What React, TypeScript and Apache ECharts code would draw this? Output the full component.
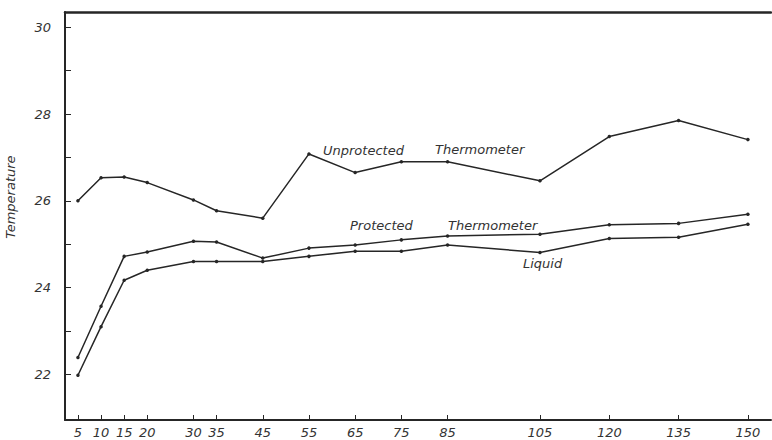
import React, { useEffect, useRef } from "react";
import * as echarts from "echarts";

const xValues = [5, 10, 15, 20, 30, 35, 45, 55, 65, 75, 85, 105, 120, 135, 150];
const unprotected = [26.0, 26.53, 26.55, 26.42, 26.02, 25.77, 25.6, 27.08, 26.65, 26.9, 26.9, 26.46, 27.48, 27.85, 27.41];
const protectedT = [22.39, 23.57, 24.72, 24.82, 25.07, 25.05, 24.68, 24.91, 24.98, 25.1, 25.19, 25.23, 25.45, 25.48, 25.69];
const liquid = [21.98, 23.1, 24.17, 24.4, 24.6, 24.6, 24.6, 24.72, 24.84, 24.84, 24.98, 24.81, 25.13, 25.16, 25.46];
const yTicks = [22, 23, 24, 25, 26, 27, 28, 29, 30];
const yLabels = [22, 24, 26, 28, 30];

const FONT = "DejaVu Sans";
const INK = "#262626";

export default function App() {
  const ref = useRef<HTMLDivElement>(null);
  useEffect(() => {
    if (!ref.current) return;
    const chart = echarts.init(ref.current, null, { renderer: "svg" });
    const mk = (vals: number[]) => xValues.map((x, i) => [x, vals[i]]);
    const lineSeries = (name: string, vals: number[]) => ({
      name,
      type: "line",
      data: mk(vals),
      symbol: "circle",
      symbolSize: 3.5,
      itemStyle: { color: INK },
      lineStyle: { color: INK, width: 1.5 },
    });
    const txt = (text: string, left: number, top: number, size = 13) => ({
      type: "text",
      left,
      top,
      style: { text, fill: "#333", font: `italic ${size}px '${FONT}'` },
    });
    chart.setOption({
      animation: false,
      backgroundColor: "#ffffff",
      grid: { left: 65, right: 1, top: 12, bottom: 20, containLabel: false },
      xAxis: [
        {
          type: "value",
          min: 2.2,
          max: 155,
          axisLine: { onZero: false, lineStyle: { color: INK, width: 2 } },
          axisTick: { inside: true, length: 5, customValues: xValues, lineStyle: { color: INK, width: 1 } },
          axisLabel: {
            customValues: xValues,
            color: "#333",
            fontFamily: FONT,
            fontStyle: "italic",
            fontSize: 13,
            margin: 6,
          },
          splitLine: { show: false },
        },
        {
          type: "value",
          position: "top",
          min: 2.2,
          max: 155,
          axisLine: { show: true, onZero: false, lineStyle: { color: INK, width: 2.5 } },
          axisTick: { show: false },
          axisLabel: { show: false },
          splitLine: { show: false },
        },
      ],
      yAxis: {
        type: "value",
        min: 20.95,
        max: 30.35,
        axisLine: { show: true, onZero: false, lineStyle: { color: INK, width: 2 } },
        axisTick: { show: true, inside: true, length: 6, customValues: yTicks, lineStyle: { color: INK, width: 1 } },
        axisLabel: {
          customValues: yLabels,
          color: "#333",
          fontFamily: FONT,
          fontStyle: "italic",
          fontSize: 13,
          margin: 14,
        },
        splitLine: { show: false },
      },
      series: [
        lineSeries("Unprotected Thermometer", unprotected),
        lineSeries("Protected Thermometer", protectedT),
        lineSeries("Liquid", liquid),
      ],
      graphic: [
        txt("Unprotected", 323, 144),
        txt("Thermometer", 435, 143),
        txt("Protected", 350, 219),
        txt("Thermometer", 448, 219),
        txt("Liquid", 523, 257),
        {
          type: "text",
          x: 4,
          y: 197,
          rotation: Math.PI / 2,
          style: {
            text: "Temperature",
            fill: "#333",
            font: `italic 13px '${FONT}'`,
            align: "center",
            verticalAlign: "top",
          },
        },
      ],
    });
    return () => chart.dispose();
  }, []);
  return (
    <div
      ref={ref}
      style={{ position: "absolute", left: 0, top: 0, width: 772, height: 440 }}
    />
  );
}
